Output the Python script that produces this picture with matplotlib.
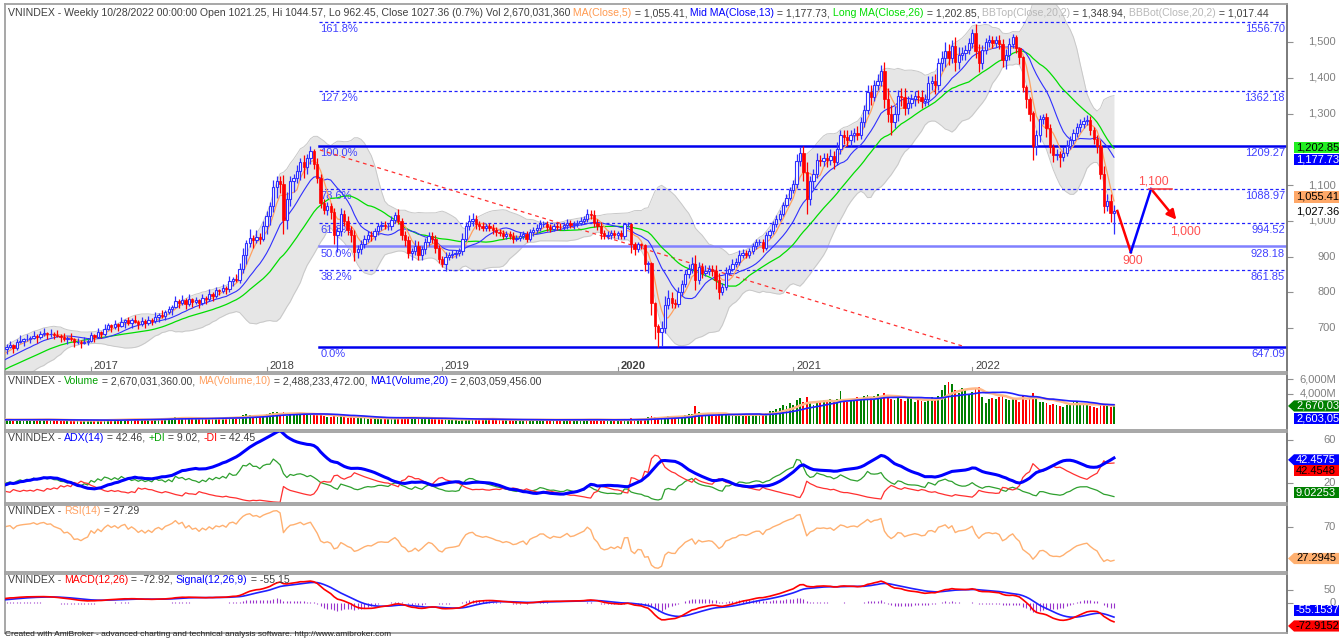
#!/usr/bin/env python3
"""VNINDEX weekly chart, AmiBroker style"""
import numpy as np
import pandas as pd
import matplotlib
matplotlib.use('Agg')
import matplotlib.pyplot as plt
from matplotlib.patches import Polygon

plt.rcParams['font.family'] = ['Liberation Sans', 'DejaVu Sans']

W, H = 1339, 640

# ---------------- data (weekly) ----------------
# first 28 weeks (Jan-Jul 2016) only warm up the indicators, not shown
close_warm = [575, 545, 525, 540, 548, 552, 560, 555, 565, 572,
              560, 568, 575, 565, 580, 590, 585, 595, 608, 600,
              612, 620, 610, 625, 615, 630, 642, 648]
close_2016 = [652, 645, 660, 665, 668, 670, 672, 678, 675, 682,
              685, 682, 684, 680, 678, 676, 670, 672, 668, 660,
              661, 658, 662, 665]
close_2017 = [680, 676, 688, 684, 697, 707, 703, 710, 706, 716,
              721, 713, 722, 718, 712, 719, 714, 723, 719, 731,
              737, 733, 746, 752, 760, 776, 770, 779, 768, 780,
              772, 777, 770, 784, 780, 795, 790, 806, 804, 812,
              808, 832, 838, 834, 866, 905, 937, 952, 945, 955,
              950, 984]
close_2018 = [1012, 1040, 1095, 1110, 1102, 1003, 1060, 1110, 1120, 1140,
              1165, 1150, 1175, 1195, 1160, 1120, 1050, 1030, 1040, 1025,
              960, 970, 1020, 1000, 975, 960, 912, 920, 935, 950,
              960, 956, 970, 985, 988, 985, 985, 1002, 1017, 998,
              960, 945, 910, 915, 930, 905, 920, 940, 958, 950,
              925, 892]
close_2019 = [880, 900, 905, 907, 910, 915, 950, 985, 1000, 1005,
              990, 985, 980, 985, 980, 975, 968, 965, 958, 962,
              958, 950, 952, 958, 962, 950, 968, 975, 980, 990,
              990, 983, 978, 985, 983, 982, 988, 995, 988, 990,
              995, 1000, 1005, 1020, 1015, 995, 985, 965, 958, 960,
              965, 960]
close_2020 = [965, 958, 990, 991, 936, 920, 935, 932, 880, 882,
              770, 705, 690, 700, 765, 785, 770, 768, 800, 822,
              850, 865, 880, 835, 870, 855, 860, 865, 860, 835,
              800, 815, 855, 865, 880, 885, 905, 910, 905, 915,
              930, 940, 940, 925, 960, 970, 990, 1005, 1020, 1045,
              1065, 1085]
close_2021 = [1103, 1167, 1190, 1135, 1060, 1110, 1130, 1170, 1168, 1175,
              1170, 1180, 1165, 1200, 1240, 1235, 1225, 1240, 1245, 1240,
              1275, 1310, 1360, 1345, 1380, 1390, 1420, 1340, 1300, 1275,
              1300, 1350, 1345, 1315, 1330, 1340, 1350, 1345, 1335, 1340,
              1385, 1390, 1380, 1440, 1455, 1475, 1455, 1490, 1445, 1465,
              1470, 1478, 1498]
close_2022 = [1525, 1475, 1440, 1478, 1500, 1505, 1498, 1505, 1495, 1450,
              1465, 1495, 1515, 1483, 1458, 1374, 1340, 1300, 1210, 1240,
              1285, 1290, 1260, 1205, 1185, 1186, 1178, 1190, 1210, 1225,
              1245, 1262, 1270, 1278, 1283, 1255, 1230, 1210, 1132, 1042,
              1055, 1021.25, 1027.36]

# upper / lower shadow length (points above max(open,close) / below min(open,close))
wick_up_warm = [18, 6, 15, 20, 5, 16, 8, 18, 5, 14, 20, 6, 16, 8, 18, 5, 15, 20, 6, 16,
                8, 18, 5, 14, 18, 6, 15, 8]
wick_dn_warm = [6, 18, 8, 5, 20, 6, 16, 5, 18, 8, 5, 18, 6, 16, 5, 20, 8, 5, 18, 6,
                16, 5, 18, 8, 6, 18, 5, 16]
wick_up_2016 = [12, 4, 10, 15, 3, 12, 6, 14, 4, 10, 15, 3, 12, 6, 14, 4, 10, 5, 13, 4,
                12, 5, 14, 6]
wick_dn_2016 = [4, 14, 6, 3, 15, 5, 12, 4, 16, 5, 3, 14, 6, 12, 4, 15, 6, 14, 4, 13,
                5, 15, 4, 10]
wick_up_2017 = [10, 4, 12, 5, 14, 6, 3, 12, 5, 15, 4, 10, 6, 14, 3, 12, 5, 10, 4, 13,
                6, 12, 4, 10, 5, 14, 6, 12, 4, 15, 5, 10, 4, 12, 6, 14, 5, 10, 4, 12,
                6, 14, 5, 12, 15, 20, 10, 25, 8, 18, 10, 14]
wick_dn_2017 = [5, 14, 4, 12, 6, 3, 15, 5, 13, 4, 16, 5, 12, 4, 15, 6, 14, 5, 12, 4,
                14, 5, 12, 6, 15, 4, 13, 5, 16, 6, 12, 4, 14, 6, 12, 5, 14, 6, 12, 5,
                13, 6, 14, 5, 8, 12, 25, 10, 22, 8, 16, 6]
wick_up_2018 = [15, 12, 20, 15, 15, 25, 20, 15, 12, 15, 10, 20, 12, 14.27, 5, 15, 12, 10, 12, 10,
                10, 12, 15, 10, 12, 10, 15, 12, 10, 10, 10, 12, 10, 8, 10, 10, 8, 10, 8, 15,
                10, 10, 12, 10, 15, 12, 10, 12, 10, 10, 10, 8]
wick_dn_2018 = [20, 25, 15, 30, 25, 40, 25, 20, 30, 15, 25, 30, 20, 15, 15, 15, 15, 12, 15, 20,
                25, 48, 12, 15, 15, 20, 24, 15, 12, 10, 10, 12, 10, 10, 10, 8, 10, 10, 8, 8,
                15, 15, 15, 20, 12, 15, 15, 12, 10, 12, 15, 10]
wick_up_2019 = [10, 12, 8, 10, 8, 10, 15, 12, 15, 18, 12, 10, 12, 10, 8, 10, 8, 10, 8, 10,
                8, 10, 8, 10, 8, 10, 10, 8, 10, 12, 8, 10, 8, 10, 8, 10, 8, 10, 8, 10,
                8, 10, 8, 12, 10, 15, 10, 12, 8, 10, 8, 10]
wick_dn_2019 = [10, 20, 10, 8, 10, 8, 10, 8, 10, 15, 12, 10, 10, 8, 10, 12, 10, 8, 10, 8,
                10, 12, 8, 10, 8, 10, 8, 10, 8, 10, 8, 12, 10, 8, 10, 8, 8, 10, 8, 10,
                8, 8, 10, 8, 10, 12, 10, 15, 10, 8, 10, 8]
wick_up_2020 = [5, 8, 5, 6, 4, 5, 6, 4, 4, 5, 3, 3, 5, 20, 25, 20, 15, 12, 15, 12,
                12, 15, 20, 25, 15, 12, 15, 12, 12, 15, 20, 12, 15, 10, 12, 10, 12, 10, 8, 10,
                8, 8, 10, 10, 8, 8, 8, 10, 10, 8, 10, 10]
wick_dn_2020 = [10, 8, 10, 8, 25, 15, 8, 12, 20, 25, 35, 35, 42.91, 40, 15, 12, 15, 12, 8, 10,
                8, 10, 12, 30, 12, 15, 10, 12, 15, 25, 20, 8, 10, 8, 6, 8, 10, 8, 10, 8,
                8, 10, 8, 12, 6, 8, 6, 8, 6, 8, 6, 8]
wick_up_2021 = [10, 20, 15, 20, 30, 15, 15, 20, 15, 15, 15, 20, 15, 20, 15, 15, 20, 15, 15, 20,
                15, 15, 20, 20, 15, 20, 15, 25, 30, 25, 20, 15, 20, 25, 20, 15, 12, 15, 20, 15,
                20, 15, 20, 15, 20, 25, 20, 15, 25, 20, 15, 15, 12]
wick_dn_2021 = [8, 10, 15, 25, 40, 15, 20, 10, 15, 15, 20, 15, 20, 10, 12, 20, 15, 15, 20, 15,
                10, 12, 12, 20, 10, 15, 12, 25, 25, 35, 15, 20, 25, 20, 15, 15, 20, 15, 20, 15,
                15, 20, 25, 15, 20, 25, 20, 15, 25, 20, 15, 20, 12]
wick_up_2022 = [11, 25, 20, 15, 12, 15, 12, 12, 15, 12, 15, 15, 8, 5, 4, 4, 5, 6, 8, 15,
                12, 10, 12, 10, 10, 15, 10, 15, 15, 12, 12, 12, 15, 12, 12, 10, 8, 10, 15, 20,
                20, 20, 17.21]
wick_dn_2022 = [15, 20, 25, 15, 12, 15, 15, 12, 15, 20, 25, 15, 12, 15, 20, 15, 25, 20, 40, 25,
                20, 15, 25, 15, 20, 15, 28, 10, 10, 10, 10, 10, 15, 10, 10, 15, 15, 20, 15, 20,
                15, 25, 58.8]

# weekly volume, millions of shares
vol_warm = [420, 450, 380, 400, 350, 300, 420, 450, 480, 500, 460, 520, 480, 550, 600, 580, 620, 550, 600, 650,
            580, 620, 600, 550, 520, 580, 620, 560]
vol_2016 = [520, 480, 560, 600, 550, 580, 620, 650, 600, 580, 620, 560, 520, 480, 500, 460, 520, 480, 450, 500,
            420, 450, 480, 520]
vol_2017 = [500, 480, 520, 450, 600, 650, 620, 580, 600, 620, 650, 580, 640, 600, 550, 520, 560, 600, 650, 700,
            720, 780, 800, 820, 850, 900, 780, 820, 760, 700, 650, 700, 680, 720, 700, 780, 820, 800, 760, 850,
            880, 950, 920, 900, 1000, 1200, 1300, 1250, 1100, 1050, 1150, 1200]
vol_2018 = [1350, 1500, 1650, 1600, 1450, 1550, 1100, 1300, 1250, 1400, 1450, 1300, 1200, 1500, 1350, 1150, 1200, 1050, 950, 900,
            1100, 1000, 1050, 900, 850, 900, 950, 850, 800, 750, 700, 750, 720, 780, 800, 750, 700, 780, 850, 900,
            850, 950, 900, 800, 750, 700, 720, 680, 750, 700, 650, 700]
vol_2019 = [650, 620, 580, 550, 500, 450, 650, 750, 800, 780, 700, 650, 620, 600, 580, 560, 540, 520, 560, 600,
            580, 550, 520, 500, 540, 560, 600, 620, 580, 560, 540, 520, 500, 560, 580, 560, 540, 600, 580, 560,
            540, 520, 600, 650, 620, 580, 560, 520, 500, 480, 520, 540]
vol_2020 = [550, 600, 620, 400, 750, 700, 650, 680, 720, 900, 1100, 950, 900, 800, 1000, 1100, 1050, 900, 950, 1100,
            1200, 1300, 1400, 2400, 1600, 1400, 1250, 1200, 1100, 1050, 1400, 1300, 1350, 1250, 1200, 1150, 1300, 1250, 1200, 1150,
            1300, 1400, 1350, 1300, 1500, 1700, 1800, 2000, 2200, 2500, 2400, 2800]
vol_2021 = [2600, 3200, 3500, 3000, 3600, 2800, 2500, 2900, 3000, 3200, 3100, 3400, 2900, 3300, 4400, 3200, 3000, 3100, 3300, 3600,
            3500, 3800, 3900, 3600, 3700, 4000, 3800, 4200, 3600, 3400, 3200, 3600, 3400, 3100, 3500, 3300, 3000, 3200, 3100, 2900,
            3400, 3600, 3300, 3800, 4500, 5200, 5600, 5400, 4600, 4200, 4800, 4500, 4000]
vol_2022 = [4300, 4800, 5000, 3600, 2800, 3400, 3500, 3300, 3600, 3700, 3400, 3200, 3500, 3300, 3000, 3800, 3200, 3400, 4200, 3800,
            3000, 2900, 2800, 2600, 2700, 2500, 2400, 2300, 2600, 2800, 2900, 3000, 2800, 2600, 2500, 2400, 2300, 2200, 2500, 2700,
            2600, 2300, 2670.03]

year_names = ['2017', '2018', '2019', '2020', '2021', '2022']
year_first_bar = [24, 76, 128, 180, 232, 285]   # visible bar index of first week of each year

fib_pcts = ['0.0%', '38.2%', '50.0%', '61.8%', '78.6%', '100.0%', '127.2%', '161.8%']
fib_prices = [647.09, 861.85, 928.18, 994.52, 1088.97, 1209.27, 1362.18, 1556.70]
fib_start_bar = 91.5

trend_bars = [91.8, 283.0]          # red dashed trendline from the 2018 top
trend_vals = [1198.0, 647.09]

proj_bars = [328, 332, 338, 346]    # projected path drawn on the right
proj_vals = [1027.36, 912, 1089, 997]
proj_text = ['900', '1,100', '1,000']

# ---------------- series ----------------
def cat(*parts):
    out = []
    for p in parts:
        out += p
    return np.array(out, dtype=float)

close = cat(close_warm, close_2016, close_2017, close_2018, close_2019, close_2020, close_2021, close_2022)
wup = cat(wick_up_warm, wick_up_2016, wick_up_2017, wick_up_2018, wick_up_2019, wick_up_2020, wick_up_2021, wick_up_2022)
wdn = cat(wick_dn_warm, wick_dn_2016, wick_dn_2017, wick_dn_2018, wick_dn_2019, wick_dn_2020, wick_dn_2021, wick_dn_2022)
vol = cat(vol_warm, vol_2016, vol_2017, vol_2018, vol_2019, vol_2020, vol_2021, vol_2022)
assert len(close) == len(wup) == len(wdn) == len(vol), (len(close), len(wup), len(wdn), len(vol))

WARM = len(close_warm)
n = len(close)
xs = np.arange(n) - WARM
opn = np.r_[close[0], close[:-1]]
high = np.maximum(opn, close) + wup
low = np.minimum(opn, close) - wdn

c = pd.Series(close)
ma5 = c.rolling(5).mean()
ma13 = c.rolling(13).mean()
ma26 = c.rolling(26).mean()
mid = c.rolling(20).mean()
sd = c.rolling(20).std(ddof=0)
bbt, bbb = mid + 2 * sd, mid - 2 * sd

# Wilder smoothing; adjust=True gives an averaged seed instead of the first value
wil = lambda s: s.ewm(alpha=1 / 14, adjust=True).mean()

h, l = pd.Series(high), pd.Series(low)
pc = c.shift(1)
tr = pd.concat([h - l, (h - pc).abs(), (l - pc).abs()], axis=1).max(axis=1).iloc[1:]
upm = (h - h.shift(1)).iloc[1:]
dnm = (l.shift(1) - l).iloc[1:]
pdm = upm.where((upm > dnm) & (upm > 0), 0.0)
mdm = dnm.where((dnm > upm) & (dnm > 0), 0.0)
atr = wil(tr)
pdi = (100 * wil(pdm) / atr).reindex(c.index)
mdi = (100 * wil(mdm) / atr).reindex(c.index)
dx = 100 * (pdi - mdi).abs() / (pdi + mdi)
adx = wil(dx.iloc[14:]).reindex(c.index)

d = c.diff().iloc[1:]
rs = wil(d.clip(lower=0)) / wil((-d).clip(lower=0))
rsi = (100 - 100 / (1 + rs)).reindex(c.index)

macd = c.ewm(span=12, adjust=False).mean() - c.ewm(span=26, adjust=False).mean()
sig = macd.ewm(span=9, adjust=False).mean()
hist = macd - sig

v = pd.Series(vol)
vma10 = v.rolling(10).mean()
vma20 = v.rolling(20).mean()

# ---------------- layout ----------------
L, R = 5, 1287
X0, DX = 10, 3.376
XL, XR = (L - X0) / DX, (R - X0) / DX

fig = plt.figure(figsize=(W / 100, H / 100), dpi=100)
fig.patch.set_facecolor('white')


def lim(top, bot, p1, v1, p2, v2):
    k = (v2 - v1) / (p2 - p1)
    return v1 + (bot - p1) * k, v1 + (top - p1) * k


def panel(top, bot, ylim):
    ax = fig.add_axes([L / W, 1 - bot / H, (R - L) / W, (bot - top) / H])
    ax.set_xlim(XL, XR)
    ax.set_ylim(*ylim)
    ax.set_xticks([])
    ax.yaxis.tick_right()
    ax.tick_params(axis='y', length=4, width=0.8, color='#909090', labelright=False)
    for s in ax.spines.values():
        s.set_color('#a0a0a0')
        s.set_linewidth(1.3)
    ax.spines['right'].set_color('#707070')
    return ax


def rlabels(ax, vals, labels):
    ax.set_yticks(vals)
    tr_ = ax.get_yaxis_transform()
    for val, s in zip(vals, labels):
        ax.text(1 + 49 / (R - L), val, s, transform=tr_, ha='right', va='center',
                fontsize=8, color='#808080', clip_on=False)


def ypx(ax, val):
    return H - ax.transData.transform((0, val))[1]


def badge(ax, val, s, bg, fg, dy=0, arrow=False):
    y = ypx(ax, val) + dy
    x0, x1, hh = 1294, 1340, 5.6
    pts = [(x0, y - hh), (x1, y - hh), (x1, y + hh), (x0, y + hh)]
    if arrow:
        pts = [(1288, y)] + pts
    fig.add_artist(Polygon([(px / W, 1 - py / H) for px, py in pts], closed=True,
                           transform=fig.transFigure, facecolor=bg, edgecolor='none', zorder=5))
    fig.text(1296 / W, 1 - y / H, s, color=fg, fontsize=8, ha='left', va='center', zorder=6)


def seg_line(x, y, segs, size):
    r = fig.canvas.get_renderer()
    for s, col in segs:
        t = fig.text(x / W, 1 - y / H, s, color=col, fontsize=size, ha='left', va='center', zorder=6)
        x += t.get_window_extent(r).width
    return x


GRAY = '#404040'
main_segs = [("VNINDEX - Weekly 10/28/2022 00:00:00 Open 1021.25, Hi 1044.57, Lo 962.45, "
              "Close 1027.36 (0.7%) Vol 2,670,031,360", GRAY),
             (" MA(Close,5)", '#ff9a50'), (" = 1,055.41,", GRAY),
             (" Mid MA(Close,13)", '#0000ff'), (" = 1,177.73,", GRAY),
             (" Long MA(Close,26)", '#00dd00'), (" = 1,202.85,", GRAY),
             (" BBTop(Close,20,2)", '#b8b8b8'), (" = 1,348.94,", GRAY),
             (" BBBot(Close,20,2)", '#b8b8b8'), (" = 1,017.44", GRAY)]

# fit the header font to the width it takes in the picture
tmp = fig.text(0, 0, ''.join(s for s, _ in main_segs), fontsize=10)
wfull = tmp.get_window_extent(fig.canvas.get_renderer()).width
tmp.remove()
FS = 10 * 1267 / wfull

# ---------------- main price panel ----------------
ax = panel(4, 372, lim(4, 372, 42, 1500, 328, 700))
ax.fill_between(xs, bbb, bbt, color='#e6e6e6', lw=0, zorder=1)
ax.plot(xs, bbt, color='#c8c8c8', lw=0.7, zorder=1.1)
ax.plot(xs, bbb, color='#c8c8c8', lw=0.7, zorder=1.1)

for pct, price in zip(fib_pcts, fib_prices):
    if pct in ('0.0%', '100.0%'):
        ax.plot([fib_start_bar, XR], [price, price], color='#0000ee', lw=1.8, zorder=2)
    elif pct == '50.0%':
        ax.plot([fib_start_bar, XR], [price, price], color='#8080ff', lw=1.8, zorder=2)
    else:
        ax.plot([fib_start_bar, XR], [price, price], color='#2020ff', lw=0.9, ls=(0, (2.5, 2)), zorder=2)
    ax.annotate(pct, (fib_start_bar, price), xytext=(1, -1.5), textcoords='offset points',
                ha='left', va='top', fontsize=FS * 1.05, color='#4040ff', zorder=2)
    ax.annotate(f'{price:.2f}', (XR, price), xytext=(-1.5, -1.5), textcoords='offset points',
                ha='right', va='top', fontsize=FS * 1.05, color='#4040ff', zorder=2)

ax.plot(trend_bars, trend_vals, color='#ff3030', lw=0.9, ls=(0, (3, 3)), zorder=2.5)

ax.plot(xs, ma26, color='#00dd00', lw=0.9, zorder=3)
ax.plot(xs, ma13, color='#3030ff', lw=0.8, zorder=3)
ax.plot(xs, ma5, color='#ffa060', lw=0.9, zorder=3)

up = close >= opn
wcol = np.where(up, '#3030ff', '#ff0000')
ax.vlines(xs, low, high, colors=wcol, lw=0.9, zorder=4)
bot = np.minimum(opn, close)
hgt = np.maximum(np.abs(close - opn), 1.5)
ax.bar(xs[up], hgt[up], bottom=bot[up], width=0.68, color='white', edgecolor='#3030ff', lw=0.8, zorder=4.5)
ax.bar(xs[~up], hgt[~up], bottom=bot[~up], width=0.68, color='#ff0000', edgecolor='#ff0000', lw=0.5, zorder=4.5)

# projected path
ax.plot(proj_bars[:2], proj_vals[:2], color='#ff0000', lw=1.8, zorder=5)
ax.plot(proj_bars[1:3], proj_vals[1:3], color='#0000ff', lw=1.8, zorder=5)
ax.annotate('', xy=(proj_bars[3], proj_vals[3]), xytext=(proj_bars[2], proj_vals[2]),
            arrowprops=dict(arrowstyle='-|>', color='#ff0000', lw=1.8, mutation_scale=14), zorder=5)
ax.plot([proj_bars[2] - 0.6, proj_bars[2] + 6.2], [proj_vals[2]] * 2, color='#ff4040', lw=1.2, zorder=5)
ax.annotate(proj_text[0], (proj_bars[1], proj_vals[1]), xytext=(1, -2), textcoords='offset points',
            ha='center', va='top', fontsize=FS * 1.15, color='#ff5050')
ax.annotate(proj_text[1], (proj_bars[2], proj_vals[2]), xytext=(2, 1), textcoords='offset points',
            ha='center', va='bottom', fontsize=FS * 1.15, color='#ff5050')
ax.annotate(proj_text[2], (proj_bars[3], proj_vals[3]), xytext=(5, -3), textcoords='offset points',
            ha='center', va='top', fontsize=FS * 1.15, color='#ff5050')

for name, b in zip(year_names, year_first_bar):
    ax.plot([b, b], [ax.get_ylim()[0], ax.get_ylim()[0] + 14], color='#909090', lw=0.8)
    ax.annotate(name, (b, ax.get_ylim()[0]), xytext=(2, 1), textcoords='offset points',
                ha='left', va='bottom', fontsize=FS * 1.05, color=GRAY,
                fontweight='bold' if name == '2020' else 'normal')

rlabels(ax, [700, 800, 900, 1000, 1100, 1300, 1400, 1500],
        ['700', '800', '900', '1,000', '1,100', '1,300', '1,400', '1,500'])
seg_line(8, 13, main_segs, FS)

# ---------------- volume ----------------
axv = panel(374, 430, lim(374, 430, 379, 6000, 394, 4000))
vup = np.r_[True, close[1:] >= close[:-1]]
axv.bar(xs, vol, width=0.55, color=np.where(vup, '#008000', '#ff0000'), lw=0, zorder=2)
axv.plot(xs, vma10, color='#ffb888', lw=1.8, zorder=3)
axv.plot(xs, vma20, color='#2020ff', lw=1.2, zorder=3)
rlabels(axv, [4000, 6000], ['4,000M', '6,000M'])
seg_line(8, 381, [("VNINDEX - ", GRAY), ("Volume", '#00a000'), (" = 2,670,031,360.00, ", GRAY),
                  ("MA(Volume,10)", '#ffa060'), (" = 2,488,233,472.00, ", GRAY),
                  ("MA1(Volume,20)", '#0000ff'), (" = 2,603,059,456.00", GRAY)], FS)

# ---------------- ADX ----------------
axa = panel(432, 503, lim(432, 503, 440, 60, 483, 20))
axa.plot(xs, pdi, color='#2ea02e', lw=0.9, zorder=2)
axa.plot(xs, mdi, color='#ff3030', lw=0.9, zorder=2)
axa.plot(xs, adx, color='#0000ff', lw=2.2, zorder=3)
rlabels(axa, [20, 60], ['20', '60'])
seg_line(8, 438, [("VNINDEX - ", GRAY), ("ADX(14)", '#0000ff'), (" = 42.46, ", GRAY),
                  ("+DI", '#00a000'), (" = 9.02, ", GRAY), ("-DI", '#ff0000'), (" = 42.45", GRAY)], FS)

# ---------------- RSI ----------------
axr = panel(505, 572, lim(505, 572, 527, 70, 558.5, 27.29))
axr.plot(xs, rsi, color='#ffb070', lw=1.0, zorder=2)
rlabels(axr, [70], ['70'])
seg_line(8, 511, [("VNINDEX - ", GRAY), ("RSI(14)", '#ffa060'), (" = 27.29", GRAY)], FS)

# ---------------- MACD ----------------
axm = panel(574, 633, lim(574, 633, 590, 50, 603, 0))
axm.vlines(xs, 0, hist, colors='#9933cc', lw=0.8, zorder=2)
axm.plot(xs, sig, color='#2020ff', lw=1.2, zorder=3)
axm.plot(xs, macd, color='#ff0000', lw=1.2, zorder=3)
rlabels(axm, [0, 50], ['0', '50'])
seg_line(8, 580, [("VNINDEX - ", GRAY), ("MACD(12,26)", '#ff0000'), (" = -72.92, ", GRAY),
                  ("Signal(12,26,9)", '#0000ff'), (" = -55.15", GRAY)], FS)

# ---------------- value badges on the right ----------------
badge(ax, 1202.85, '1,202.85', '#22ee22', 'black', dy=-1)
badge(ax, 1177.73, '1,177.73', '#0000ff', 'white', dy=2)
badge(ax, 1055.41, '1,055.41', '#ffa868', 'black', dy=-4)
badge(ax, 1027.36, '1,027.36', 'white', 'black', dy=1)
badge(axv, 2670.03, '2,670,031', '#008000', 'white', dy=2, arrow=True)
badge(axv, 2603.06, '2,603,059', '#0000ff', 'white', dy=14)
badge(axa, 42.4575, '42.4575', '#0000ff', 'white', dy=1, arrow=True)
badge(axa, 42.4548, '42.4548', '#ff0000', 'black', dy=12)
badge(axa, 9.02253, '9.02253', '#008000', 'white', dy=-2)
badge(axr, 27.2945, '27.2945', '#ffb070', 'black', arrow=True)
badge(axm, -55.1537, '-55.1537', '#0000ff', 'white', dy=-7)
badge(axm, -72.9152, '-72.9152', '#ff0000', 'black', dy=4, arrow=True)

fig.text(5 / W, 1 - 635 / H, "Created with AmiBroker - advanced charting and technical analysis software. "
         "http://www.amibroker.com", fontsize=FS * 0.8, color='#202020', ha='left', va='center')

fig.savefig('out.png', dpi=100)
